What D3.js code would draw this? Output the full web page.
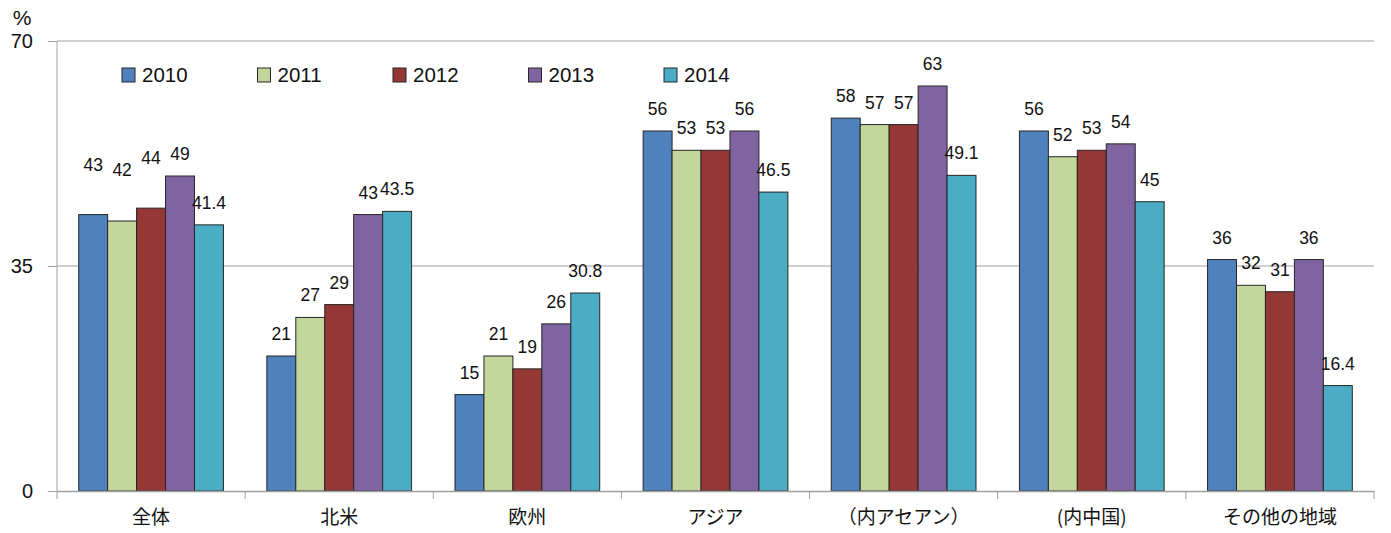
<!DOCTYPE html>
<html lang="ja">
<head>
    <meta charset="UTF-8">
    <title>地域別</title>
    <script src="https://cdn.jsdelivr.net/npm/d3@7/dist/d3.min.js"></script>
    <style>
        body {
            margin: 0;
            background: #fff;
        }

        svg text {
            fill: #111;
        }

        svg .num {
            font-family: "Liberation Sans", Arial, sans-serif;
        }

        svg .x-axis .tick text {
            font-family: "Noto Sans CJK JP", sans-serif;
            font-size: 19px;
        }

        svg .y-axis .tick text {
            font-family: "Liberation Sans", Arial, sans-serif;
            font-size: 20px;
        }
    </style>
</head>
<body>
<svg width="1391" height="533"></svg>
<script>

    var categories = ['全体', '北米', '欧州', 'アジア', '（内アセアン）', '(内中国)', 'その他の地域'];
    var years = ['2010', '2011', '2012', '2013', '2014'];

    var v2010 = [43, 21, 15, 56, 58, 56, 36];
    var v2011 = [42, 27, 21, 53, 57, 52, 32];
    var v2012 = [44, 29, 19, 53, 57, 53, 31];
    var v2013 = [49, 43, 26, 56, 63, 54, 36];
    var v2014 = [41.4, 43.5, 30.8, 46.5, 49.1, 45, 16.4];

    var yTicks = [0, 35, 70];
    var colors = ['#4f81bd', '#c3d69b', '#953735', '#8064a2', '#4bacc6'];

    // labels that sit higher than the rest in the original
    var raisedLabels = {'全体|2010': 28, '全体|2011': 29, '全体|2012': 28};

    var series = [v2010, v2011, v2012, v2013, v2014];

    var svg = d3.select('svg'),
        margin = {top: 41, right: 17, bottom: 42, left: 57},
        width = 1391,
        height = 533;

    var x0 = d3.scaleBand().domain(categories)
                .range([margin.left, width - margin.right])
                .padding(0);
    var x1 = d3.scaleBand().domain(years)
                .range([0, x0.bandwidth()])
                .paddingInner(0)
                .paddingOuter(0.75);
    var yScale = d3.scaleLinear().domain([0, 70])
                .range([height - margin.bottom, margin.top]);
    var colorScale = d3.scaleOrdinal().domain(years).range(colors);

    // grid
    svg.append('g')
        .selectAll('line')
        .data(yTicks.filter(function(d) { return d > 0; }))
        .enter()
        .append('line')
        .attr('x1', margin.left)
        .attr('x2', width - margin.right)
        .attr('y1', function(d) { return yScale(d); })
        .attr('y2', function(d) { return yScale(d); })
        .style('stroke', '#bfbfbf')
        .style('stroke-width', 1.5);

    // y axis
    var yAxis = d3.axisLeft(yScale).tickValues(yTicks).tickSize(9).tickPadding(15);
    var yG = svg.append('g')
        .classed('y-axis', true)
        .attr('transform', 'translate(' + margin.left + ',0)')
        .call(yAxis);
    yG.selectAll('path, line').style('stroke', '#a0a0a0');
    yG.select('.domain').attr('d', 'M0,' + yScale(70) + 'V' + yScale(0));

    svg.append('text')
        .classed('num', true)
        .attr('x', 22)
        .attr('y', 25)
        .attr('text-anchor', 'middle')
        .style('font-size', '21px')
        .text('%');

    // bars
    var rows = categories.map(function(c, i) {
        return {cat: c, vals: years.map(function(yr, j) {
            return {cat: c, year: yr, value: series[j][i]};
        })};
    });

    var groups = svg.append('g')
        .selectAll('g')
        .data(rows)
        .enter()
        .append('g')
        .attr('transform', function(d) { return 'translate(' + x0(d.cat) + ',0)'; });

    groups.selectAll('rect')
        .data(function(d) { return d.vals; })
        .enter()
        .append('rect')
        .attr('x', function(d) { return x1(d.year); })
        .attr('y', function(d) { return yScale(d.value); })
        .attr('width', x1.bandwidth())
        .attr('height', function(d) { return yScale(0) - yScale(d.value); })
        .style('fill', function(d) { return colorScale(d.year); })
        .style('stroke', '#262626')
        .style('stroke-width', 1);

    groups.selectAll('text')
        .data(function(d) { return d.vals; })
        .enter()
        .append('text')
        .classed('num', true)
        .attr('x', function(d) { return x1(d.year) + x1.bandwidth() / 2; })
        .attr('y', function(d) {
            var lift = raisedLabels[d.cat + '|' + d.year] || 0;
            return yScale(d.value) - 16 - lift;
        })
        .attr('text-anchor', 'middle')
        .style('font-size', '17.5px')
        .text(function(d) { return d.value; });

    // x axis
    var xAxis = d3.axisBottom(x0).tickSize(0);
    var xG = svg.append('g')
        .classed('x-axis', true)
        .attr('transform', 'translate(0,' + yScale(0) + ')')
        .call(xAxis);
    xG.select('.domain').style('stroke', '#a0a0a0').style('stroke-width', 1.5);
    xG.selectAll('.tick text').attr('y', 33).attr('dy', 0);

    var bounds = categories.map(function(c) { return x0(c); }).concat([width - margin.right]);
    xG.selectAll('.bound')
        .data(bounds)
        .enter()
        .append('line')
        .classed('bound', true)
        .attr('x1', function(d) { return d; })
        .attr('x2', function(d) { return d; })
        .attr('y1', 0)
        .attr('y2', 8)
        .style('stroke', '#a0a0a0');

    // legend
    var legend = svg.append('g')
        .selectAll('g')
        .data(years)
        .enter()
        .append('g')
        .attr('transform', function(d, i) { return 'translate(' + (122 + i * 135.5) + ',68)'; });

    legend.append('rect')
        .attr('width', 13)
        .attr('height', 14)
        .style('fill', function(d) { return colorScale(d); })
        .style('stroke', '#262626');

    legend.append('text')
        .classed('num', true)
        .attr('x', 20)
        .attr('y', 14)
        .style('font-size', '20.5px')
        .text(function(d) { return d; });

</script>
</body>
</html>
